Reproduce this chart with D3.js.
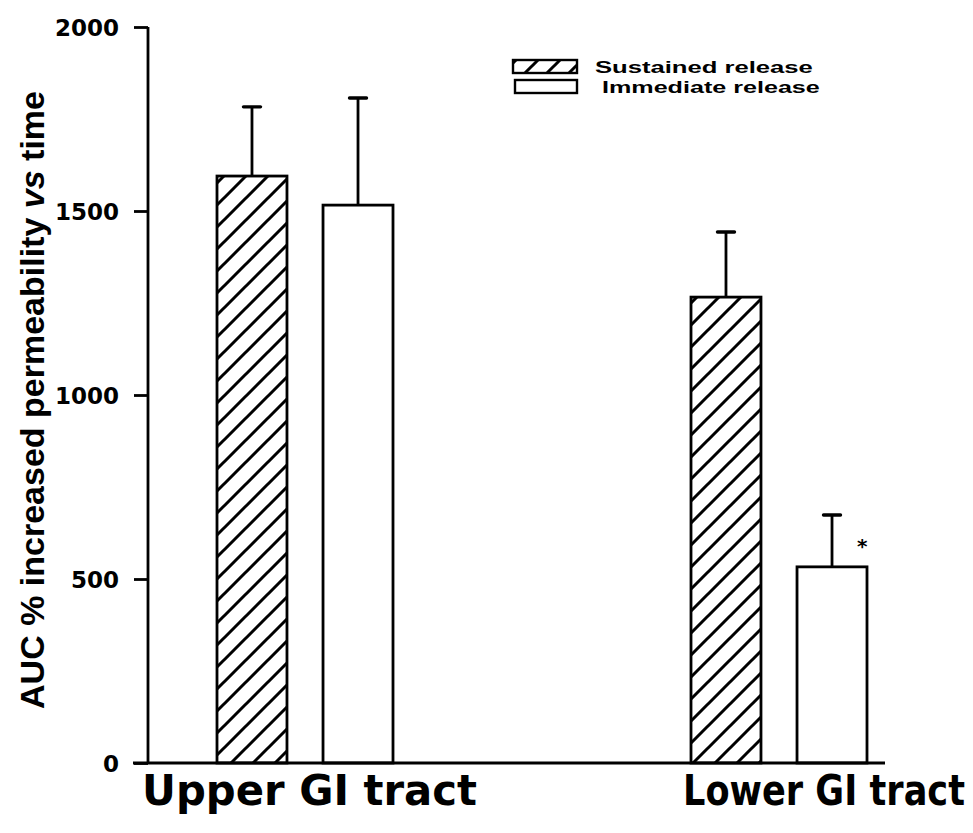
<!DOCTYPE html>
<html>
<head>
<meta charset="utf-8">
<script src="https://cdn.jsdelivr.net/npm/d3@7"></script>
<style>
  body { margin: 0; background: #fff; }
  svg text { font-weight: bold; fill: #000; }
</style>
</head>
<body>
<svg width="973" height="833" font-family="DejaVu Sans"></svg>
<script>
// data
var categories = ["Upper GI tract", "Lower GI tract"]
var series = ["Sustained release", "Immediate release"]
var sustained = [1595, 1266]
var sustainedErr = [188, 177]
var immediate = [1516, 533]
var immediateErr = [291, 141]
var yTicks = [0, 500, 1000, 1500, 2000]
var starred = [{ cat: "Lower GI tract", ser: "Immediate release" }]

var svg = d3.select("svg")

var bars = []
categories.forEach(function (c, i) {
  bars.push({ cat: c, ser: series[0], value: sustained[i], err: sustainedErr[i] })
  bars.push({ cat: c, ser: series[1], value: immediate[i], err: immediateErr[i] })
})

////////// SCALES //////////
var y = d3.scaleLinear().domain([0, 2000]).range([763, 27])
var x0 = d3.scalePoint().domain(categories).range([305, 779])
var x1 = d3.scaleBand().domain(series).range([-88, 88]).paddingInner(0.34)

// hatch pattern
var defs = svg.append("defs")
defs.append("pattern")
  .attr("id", "hatch")
  .attr("patternUnits", "userSpaceOnUse")
  .attr("width", 22).attr("height", 22)
  .attr("patternTransform", "translate(4,0)")
  .append("path")
  .attr("d", "M0,22 L22,0 M-11,11 L11,-11 M11,33 L33,11")
  .attr("stroke", "#000")
  .attr("stroke-width", 3)

function fillFor(s) { return s === series[0] ? "url(#hatch)" : "#fff" }

////////// BARS //////////
var g = svg.append("g")

g.selectAll(".err")
  .data(bars)
  .enter().append("line")
  .attr("x1", d => x0(d.cat) + x1(d.ser) + x1.bandwidth() / 2)
  .attr("x2", d => x0(d.cat) + x1(d.ser) + x1.bandwidth() / 2)
  .attr("y1", d => y(d.value))
  .attr("y2", d => y(d.value + d.err))
  .attr("stroke", "#000").attr("stroke-width", 2.8)

g.selectAll(".cap")
  .data(bars)
  .enter().append("line")
  .attr("x1", d => x0(d.cat) + x1(d.ser) + x1.bandwidth() / 2 - 8.5)
  .attr("x2", d => x0(d.cat) + x1(d.ser) + x1.bandwidth() / 2 + 8.5)
  .attr("y1", d => y(d.value + d.err))
  .attr("y2", d => y(d.value + d.err))
  .attr("stroke", "#000").attr("stroke-width", 3.4)
  .attr("stroke-linecap", "round")

g.selectAll(".bar")
  .data(bars)
  .enter().append("rect")
  .attr("x", d => x0(d.cat) + x1(d.ser))
  .attr("y", d => y(d.value))
  .attr("width", x1.bandwidth())
  .attr("height", d => y(0) - y(d.value))
  .attr("fill", d => fillFor(d.ser))
  .attr("stroke", "#000").attr("stroke-width", 2.8)

// significance marker
g.selectAll(".star")
  .data(bars.filter(b => starred.some(s => s.cat === b.cat && s.ser === b.ser)))
  .enter().append("text")
  .attr("x", d => x0(d.cat) + x1(d.ser) + x1.bandwidth() / 2 + 25)
  .attr("y", d => y(d.value + d.err / 2) + 12)
  .attr("font-size", 20)
  .text("*")

////////// AXES //////////
var yAxis = svg.append("g")
  .attr("transform", "translate(148,0)")
  .call(d3.axisLeft(y).tickValues(yTicks).tickSize(14).tickPadding(15).tickFormat(d3.format("d")))
yAxis.attr("font-family", null).attr("font-size", 23)
yAxis.select(".domain").attr("d", "M0," + y(2000) + "V" + y(0)).attr("stroke-width", 2.8)
yAxis.selectAll(".tick line").attr("stroke-width", 2.8)
yAxis.selectAll(".tick text").attr("dy", "0.36em")

svg.append("line")
  .attr("x1", 133).attr("x2", 885)
  .attr("y1", y(0)).attr("y2", y(0))
  .attr("stroke", "#000").attr("stroke-width", 2.8)

// category labels; the scanned labels differ in width, so squeeze each to fit
var catWidth = { "Upper GI tract": 335, "Lower GI tract": 282 }
var catLeft = { "Upper GI tract": 142, "Lower GI tract": 683 }
svg.selectAll(".cat")
  .data(categories)
  .enter().append("text")
  .attr("font-size", 42)
  .text(d => d)
  .attr("transform", function (d) {
    var k = catWidth[d] / this.getComputedTextLength()
    return "translate(" + catLeft[d] + ",805) scale(" + k + ",1)"
  })

// y label with italic "vs"
var ylab = svg.append("text")
  .attr("transform", "translate(44,400) rotate(-90)")
  .attr("text-anchor", "middle")
  .attr("font-family", "Liberation Sans")
  .attr("font-size", 34)
ylab.append("tspan").text("AUC % increased permeability ")
ylab.append("tspan").attr("font-style", "italic").text("vs")
ylab.append("tspan").text(" time")

////////// LEGEND //////////
var legend = svg.append("g")
var legendRows = [{ s: series[0], bx: 513, by: 60, tx: 595 }, { s: series[1], bx: 515, by: 80, tx: 602 }]
legend.selectAll("rect")
  .data(legendRows)
  .enter().append("rect")
  .attr("x", d => d.bx).attr("y", d => d.by)
  .attr("width", d => 577 - d.bx).attr("height", 13)
  .attr("fill", d => fillFor(d.s))
  .attr("stroke", "#000").attr("stroke-width", 2.4)
legend.selectAll("text")
  .data(legendRows)
  .enter().append("text")
  .attr("font-family", "Liberation Sans")
  .attr("font-size", 17)
  .text(d => d.s)
  .attr("transform", function (d) {
    var k = 218 / this.getComputedTextLength()
    return "translate(" + d.tx + "," + (d.by + 13) + ") scale(" + k + ",1)"
  })
</script>
</body>
</html>
